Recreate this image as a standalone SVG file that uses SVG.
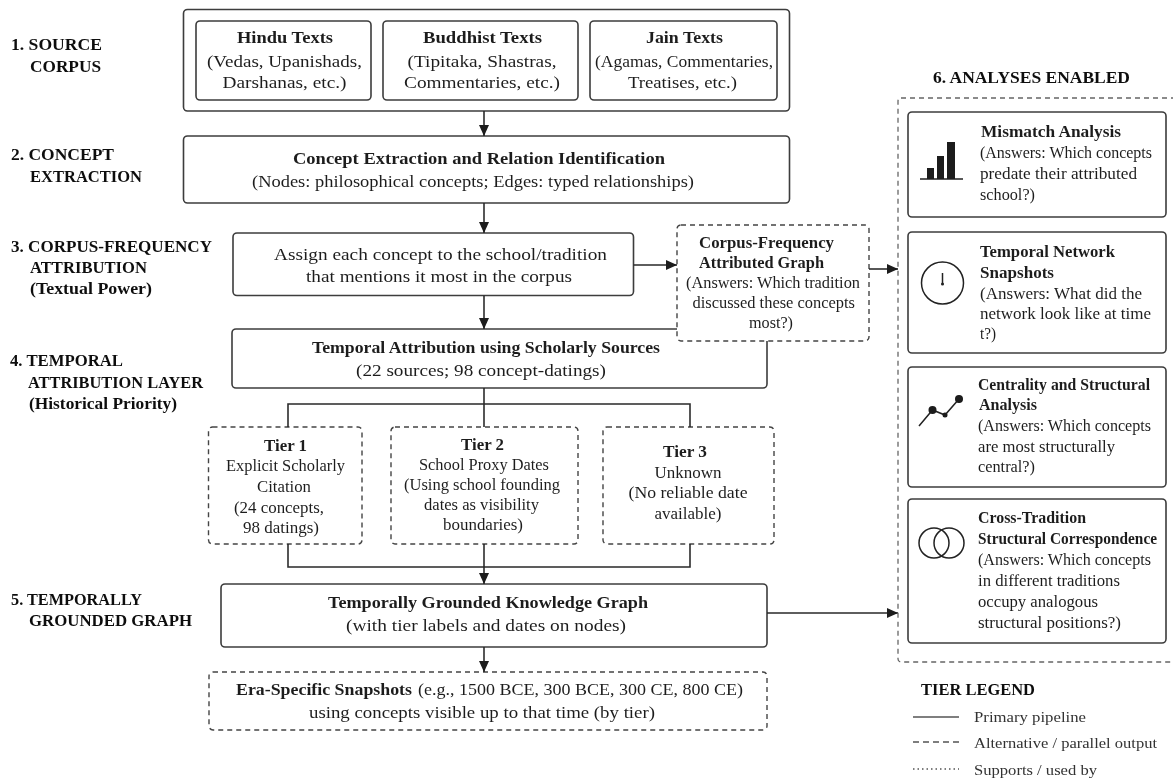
<svg xmlns="http://www.w3.org/2000/svg" width="1173" height="778" viewBox="0 0 1173 778">
<style>
text{font-family:"Liberation Serif","Times New Roman",serif;font-size:17px;fill:#1f1f1f}
.b{font-weight:bold}
.l{font-weight:bold;font-size:17px;fill:#111}
.t{font-size:16px}
.k{font-size:16.500px}
.box{fill:#fff;stroke:#3c3c3c;stroke-width:1.600}
.dash{fill:#fff;stroke:#444;stroke-width:1.400;stroke-dasharray:5 4}
.edge{fill:none;stroke:#2a2a2a;stroke-width:1.600}
.ic{fill:none;stroke:#222;stroke-width:1.500}
.leg{font-size:15px;fill:#333}
</style>
<defs>
<marker id="ah" markerUnits="userSpaceOnUse" markerWidth="12" markerHeight="12" refX="11" refY="5" orient="auto"><path d="M0,0L11,5L0,10Z" fill="#1a1a1a"/></marker>
<filter id="soft" filterUnits="userSpaceOnUse" x="0" y="0" width="1173" height="778"><feGaussianBlur stdDeviation="0.450"/></filter>
</defs>
<rect width="1173" height="778" fill="#fff"/>
<g filter="url(#soft)">
<g id="stage-labels">
<text class="l" x="11" y="50" textLength="91" lengthAdjust="spacingAndGlyphs">1. SOURCE</text><text class="l" x="30" y="72" textLength="71" lengthAdjust="spacingAndGlyphs">CORPUS</text>
<text class="l" x="11" y="160" textLength="103" lengthAdjust="spacingAndGlyphs">2. CONCEPT</text><text class="l" x="30" y="182" textLength="112" lengthAdjust="spacingAndGlyphs">EXTRACTION</text>
<text class="l" x="11" y="252" textLength="201" lengthAdjust="spacingAndGlyphs">3. CORPUS-FREQUENCY</text><text class="l" x="30" y="273" textLength="117" lengthAdjust="spacingAndGlyphs">ATTRIBUTION</text><text class="l" x="30" y="294" textLength="122" lengthAdjust="spacingAndGlyphs">(Textual Power)</text>
<text class="l" x="10" y="366" textLength="113" lengthAdjust="spacingAndGlyphs">4. TEMPORAL</text><text class="l" x="28" y="388" textLength="175" lengthAdjust="spacingAndGlyphs">ATTRIBUTION LAYER</text><text class="l" x="29" y="409" textLength="148" lengthAdjust="spacingAndGlyphs">(Historical Priority)</text>
<text class="l" x="11" y="605" textLength="131" lengthAdjust="spacingAndGlyphs">5. TEMPORALLY</text><text class="l" x="29" y="626" textLength="163" lengthAdjust="spacingAndGlyphs">GROUNDED GRAPH</text>
<text class="l" x="933" y="83" textLength="197" lengthAdjust="spacingAndGlyphs">6. ANALYSES ENABLED</text>
</g>
<g id="source"><rect class="box" x="183.500" y="9.500" width="606" height="101.500" rx="4"/></g>
<g id="hindu"><rect class="box" x="196" y="21" width="175" height="79" rx="4"/>
<text class="b" x="237" y="43" textLength="96" lengthAdjust="spacingAndGlyphs">Hindu Texts</text><text x="207" y="67" textLength="155" lengthAdjust="spacingAndGlyphs">(Vedas, Upanishads,</text><text x="222.500" y="88" textLength="124" lengthAdjust="spacingAndGlyphs">Darshanas, etc.)</text></g>
<g id="buddhist"><rect class="box" x="383" y="21" width="195" height="79" rx="4"/>
<text class="b" x="423" y="43" textLength="119" lengthAdjust="spacingAndGlyphs">Buddhist Texts</text><text x="407.500" y="67" textLength="149" lengthAdjust="spacingAndGlyphs">(Tipitaka, Shastras,</text><text x="404" y="88" textLength="156" lengthAdjust="spacingAndGlyphs">Commentaries, etc.)</text></g>
<g id="jain"><rect class="box" x="590" y="21" width="187" height="79" rx="4"/>
<text class="b" x="646" y="43" textLength="77" lengthAdjust="spacingAndGlyphs">Jain Texts</text><text x="595" y="67" textLength="178" lengthAdjust="spacingAndGlyphs">(Agamas, Commentaries,</text><text x="628" y="88" textLength="109" lengthAdjust="spacingAndGlyphs">Treatises, etc.)</text></g>
<g id="extraction"><rect class="box" x="183.500" y="136" width="606" height="67" rx="4"/>
<text class="b" x="293" y="164" textLength="372" lengthAdjust="spacingAndGlyphs">Concept Extraction and Relation Identification</text><text x="252" y="187" textLength="442" lengthAdjust="spacingAndGlyphs">(Nodes: philosophical concepts; Edges: typed relationships)</text></g>
<g id="assign"><rect class="box" x="233" y="233" width="400.500" height="62.500" rx="4"/>
<text x="274" y="260" textLength="333" lengthAdjust="spacingAndGlyphs">Assign each concept to the school/tradition</text><text x="306" y="282" textLength="266" lengthAdjust="spacingAndGlyphs">that mentions it most in the corpus</text></g>
<g id="temporal"><rect class="box" x="232" y="329" width="535" height="59" rx="4"/>
<text class="b" x="312" y="353" textLength="348" lengthAdjust="spacingAndGlyphs">Temporal Attribution using Scholarly Sources</text><text x="356" y="376" textLength="250" lengthAdjust="spacingAndGlyphs">(22 sources; 98 concept-datings)</text></g>
<g id="corpus-graph"><rect class="dash" x="677" y="225" width="192" height="116" rx="4"/>
<text class="b t" x="699" y="248" textLength="135" lengthAdjust="spacingAndGlyphs">Corpus-Frequency</text><text class="b t" x="699" y="268" textLength="125" lengthAdjust="spacingAndGlyphs">Attributed Graph</text>
<text class="t" x="686" y="288" textLength="174" lengthAdjust="spacingAndGlyphs">(Answers: Which tradition</text><text class="t" x="692.500" y="308" textLength="162.500" lengthAdjust="spacingAndGlyphs">discussed these concepts</text><text class="t" x="749" y="328" textLength="44" lengthAdjust="spacingAndGlyphs">most?)</text></g>
<g id="tier1"><rect class="dash" x="208.500" y="427" width="153.500" height="117" rx="4"/>
<text class="b" x="264" y="451" textLength="43" lengthAdjust="spacingAndGlyphs">Tier 1</text><text class="t" x="226" y="471" textLength="119" lengthAdjust="spacingAndGlyphs">Explicit Scholarly</text><text class="t" x="257" y="492" textLength="54" lengthAdjust="spacingAndGlyphs">Citation</text><text class="t" x="234" y="513" textLength="90" lengthAdjust="spacingAndGlyphs">(24 concepts,</text><text class="t" x="243" y="533" textLength="76" lengthAdjust="spacingAndGlyphs">98 datings)</text></g>
<g id="tier2"><rect class="dash" x="391" y="427" width="187" height="117" rx="4"/>
<text class="b" x="461" y="450" textLength="43" lengthAdjust="spacingAndGlyphs">Tier 2</text><text class="t" x="419" y="470" textLength="130" lengthAdjust="spacingAndGlyphs">School Proxy Dates</text><text class="t" x="404" y="490" textLength="156" lengthAdjust="spacingAndGlyphs">(Using school founding</text><text class="t" x="424" y="510" textLength="115" lengthAdjust="spacingAndGlyphs">dates as visibility</text><text class="t" x="443" y="530" textLength="80" lengthAdjust="spacingAndGlyphs">boundaries)</text></g>
<g id="tier3"><rect class="dash" x="603" y="427" width="171" height="117" rx="4"/>
<text class="b" x="663" y="457" textLength="44" lengthAdjust="spacingAndGlyphs">Tier 3</text><text class="t" x="654.500" y="478" textLength="67" lengthAdjust="spacingAndGlyphs">Unknown</text><text class="t" x="628.500" y="498" textLength="119" lengthAdjust="spacingAndGlyphs">(No reliable date</text><text class="t" x="654.500" y="519" textLength="67" lengthAdjust="spacingAndGlyphs">available)</text></g>
<g id="grounded"><rect class="box" x="221" y="584" width="546" height="63" rx="4"/>
<text class="b" x="328" y="608" textLength="320" lengthAdjust="spacingAndGlyphs">Temporally Grounded Knowledge Graph</text><text x="346" y="631" textLength="280" lengthAdjust="spacingAndGlyphs">(with tier labels and dates on nodes)</text></g>
<g id="snapshots"><rect class="dash" x="209" y="672" width="558" height="58" rx="4"/>
<text class="b" x="236" y="695" textLength="176" lengthAdjust="spacingAndGlyphs">Era-Specific Snapshots</text><text x="418" y="695" textLength="325" lengthAdjust="spacingAndGlyphs">(e.g., 1500 BCE, 300 BCE, 300 CE, 800 CE)</text><text x="309" y="718" textLength="346" lengthAdjust="spacingAndGlyphs">using concepts visible up to that time (by tier)</text></g>
<g id="connectors">
<path class="edge" d="M484,111V136" marker-end="url(#ah)"/>
<path class="edge" d="M484,203V233" marker-end="url(#ah)"/>
<path class="edge" d="M484,295.500V329" marker-end="url(#ah)"/>
<path class="edge" d="M633.500,265H677" marker-end="url(#ah)"/>
<path class="edge" d="M869,269H898" marker-end="url(#ah)"/>
<path class="edge" d="M484,388V427M288,427V404H690V427"/>
<path class="edge" d="M288,544V567H690V544"/>
<path class="edge" d="M484,544V584" marker-end="url(#ah)"/>
<path class="edge" d="M484,647V672" marker-end="url(#ah)"/>
<path class="edge" d="M767,613H898" marker-end="url(#ah)"/>
</g>
<g id="analyses-panel"><rect x="898" y="98" width="280" height="564" rx="3" fill="none" stroke="#666" stroke-width="1.300" stroke-dasharray="5 4"/></g>
<g id="mismatch"><rect class="box" x="908" y="112" width="258" height="105" rx="4"/>
<path d="M920,179H963" class="ic"/><path d="M927,168h7v11h-7zM937,156h7v23h-7zM947,142h8v37h-8z" fill="#1a1a1a"/>
<text class="b k" x="981" y="137" textLength="140" lengthAdjust="spacingAndGlyphs">Mismatch Analysis</text><text class="k" x="980" y="158" textLength="172" lengthAdjust="spacingAndGlyphs">(Answers: Which concepts</text><text class="k" x="980" y="179" textLength="157" lengthAdjust="spacingAndGlyphs">predate their attributed</text><text class="k" x="980" y="200" textLength="55" lengthAdjust="spacingAndGlyphs">school?)</text></g>
<g id="snapshots-card"><rect class="box" x="908" y="232" width="258" height="121" rx="4"/>
<circle class="ic" cx="942.500" cy="283" r="21"/><path class="ic" d="M942.500,273V285"/><circle cx="942.500" cy="284" r="1.500" fill="#222"/>
<text class="b k" x="980" y="257" textLength="135" lengthAdjust="spacingAndGlyphs">Temporal Network</text><text class="b k" x="980" y="278" textLength="74" lengthAdjust="spacingAndGlyphs">Snapshots</text><text class="k" x="980" y="299" textLength="162" lengthAdjust="spacingAndGlyphs">(Answers: What did the</text><text class="k" x="980" y="319" textLength="171" lengthAdjust="spacingAndGlyphs">network look like at time</text><text class="k" x="980" y="339" textLength="16" lengthAdjust="spacingAndGlyphs">t?)</text></g>
<g id="centrality"><rect class="box" x="908" y="367" width="258" height="120" rx="4"/>
<path class="ic" d="M919,426L932.500,410L945,415L959,399"/><circle cx="932.500" cy="410" r="4" fill="#1a1a1a"/><circle cx="945" cy="415" r="2.500" fill="#1a1a1a"/><circle cx="959" cy="399" r="4" fill="#1a1a1a"/>
<text class="b k" x="978" y="390" textLength="172" lengthAdjust="spacingAndGlyphs">Centrality and Structural</text><text class="b k" x="979" y="410" textLength="58" lengthAdjust="spacingAndGlyphs">Analysis</text><text class="k" x="978" y="431" textLength="173" lengthAdjust="spacingAndGlyphs">(Answers: Which concepts</text><text class="k" x="978" y="452" textLength="137" lengthAdjust="spacingAndGlyphs">are most structurally</text><text class="k" x="978" y="472" textLength="57" lengthAdjust="spacingAndGlyphs">central?)</text></g>
<g id="cross"><rect class="box" x="908" y="499" width="258" height="144" rx="4"/>
<circle class="ic" cx="934" cy="543" r="15"/><circle class="ic" cx="949" cy="543" r="15"/>
<text class="b k" x="978" y="523" textLength="108" lengthAdjust="spacingAndGlyphs">Cross-Tradition</text><text class="b k" x="978" y="544" textLength="179" lengthAdjust="spacingAndGlyphs">Structural Correspondence</text><text class="k" x="978" y="565" textLength="173" lengthAdjust="spacingAndGlyphs">(Answers: Which concepts</text><text class="k" x="978" y="586" textLength="142" lengthAdjust="spacingAndGlyphs">in different traditions</text><text class="k" x="978" y="607" textLength="120" lengthAdjust="spacingAndGlyphs">occupy analogous</text><text class="k" x="978" y="628" textLength="143" lengthAdjust="spacingAndGlyphs">structural positions?)</text></g>
<g id="legend">
<text class="l" x="921" y="695" textLength="114" lengthAdjust="spacingAndGlyphs">TIER LEGEND</text>
<path d="M913,717H959" stroke="#555" stroke-width="1.300"/><text class="leg" x="974" y="722" textLength="112" lengthAdjust="spacingAndGlyphs">Primary pipeline</text>
<path d="M913,742H959" stroke="#555" stroke-width="1.300" stroke-dasharray="6 4"/><text class="leg" x="974" y="748" textLength="183" lengthAdjust="spacingAndGlyphs">Alternative / parallel output</text>
<path d="M913,769H959" stroke="#555" stroke-width="1.300" stroke-dasharray="1.500 3"/><text class="leg" x="974" y="775" textLength="123" lengthAdjust="spacingAndGlyphs">Supports / used by</text>
</g>
</g>
</svg>
